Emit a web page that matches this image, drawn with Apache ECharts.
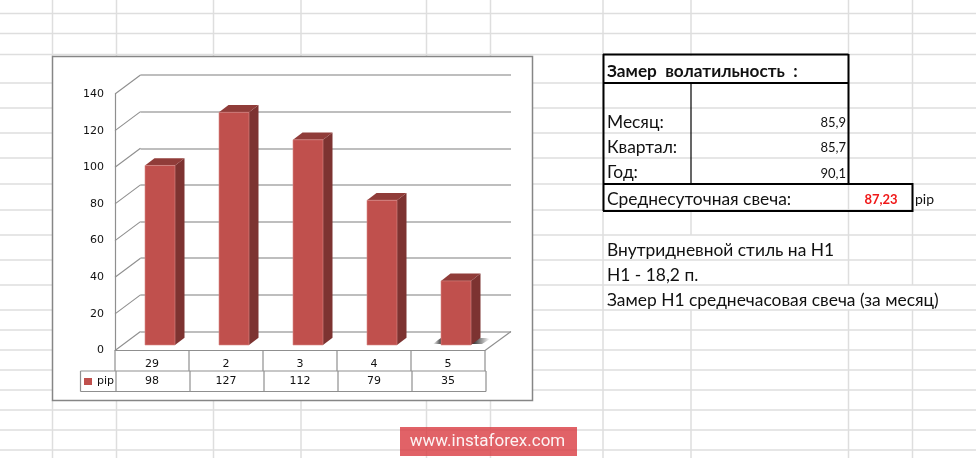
<!DOCTYPE html>
<html><head><meta charset="utf-8">
<style>html,body{margin:0;padding:0;background:#fff}#c{width:976px;height:458px}</style>
<script src="https://cdn.jsdelivr.net/npm/echarts@6/dist/echarts.min.js"></script>
</head><body><div id="c"></div>
<script>
var categories = ['29','2','3','4','5'];
var pipValues = [98,127,112,79,35];
var yTicks = [0,20,40,60,80,100,120,140];
var seriesName = 'pip';
var titleText = 'Замер  волатильность  :';
var periodLabels = ['Месяц:','Квартал:','Год:'];
var periodValues = ['85,9','85,7','90,1'];
var averageLabel = 'Среднесуточная свеча:';
var averageValue = '87,23';
var averageUnit = 'pip';
var notes = ['Внутридневной стиль на Н1','Н1 - 18,2 п.','Замер Н1 среднечасовая свеча (за месяц)'];
var watermark = 'www.instaforex.com';

var SHEET='Lato, "Open Sans", sans-serif', CHARTF='"DejaVu Sans", sans-serif';
var gridC='#dedede', g=[];
function ln(x1,y1,x2,y2,c,w,z){g.push({type:'line',silent:true,z:z==null?-20:z,shape:{x1:x1,y1:y1,x2:x2,y2:y2},style:{stroke:c||gridC,lineWidth:w||1.5}});}
function tx(t,x,y,o){o=o||{};g.push({type:'text',z:30,x:x,y:y,style:{text:t,fill:o.c||'#111',font:(o.b?'bold ':'')+(o.s||15.5)+'px '+SHEET,align:o.a||'left',verticalAlign:'middle'}});}
// spreadsheet background
[13.5,33.5,54.5,83,108,133,158,184,210,235,260,285,310,330,350,370,390,410,430,450].forEach(function(y){ln(0,y,976,y);});
[52.5,116.5,213.5,301,426.5,490.5].forEach(function(x){ln(x,0,x,56);ln(x,400,x,458);});
[603].forEach(function(x){ln(x,0,x,458);});
ln(691,0,691,56);ln(691,210,691,235);ln(691,310,691,458);
[848.5,912.5].forEach(function(x){ln(x,0,x,285);ln(x,310,x,458);});
// chart panel
g.push({type:'rect',silent:true,z:-10,shape:{x:52.5,y:56.5,width:480,height:344},style:{fill:'#fff',stroke:'#868686',lineWidth:1.5}});
// floor shadow
g.push({type:'polygon',silent:true,z:-5,shape:{points:[[438,340],[441,338],[486,338],[490,339],[482,344],[433,344]]},
  style:{fill:{type:'linear',x:0,y:0,x2:1,y2:0,colorStops:[{offset:0,color:'rgba(30,30,30,0)'},{offset:.14,color:'rgba(30,30,30,.85)'},{offset:.72,color:'rgba(30,30,30,.85)'},{offset:1,color:'rgba(30,30,30,0)'}]}}});
// right tables
var K='#000';
ln(603,54.5,848.5,54.5,K,2,20);ln(603,83,848.5,83,K,2,20);
ln(603.5,54,603.5,211,K,2,20);ln(848.5,54,848.5,184,K,2,20);
ln(691,83,691,184,K,1.2,20);
ln(603,184,912.5,184,K,2,20);ln(603,211,912.5,211,K,2,20);ln(912.5,183,912.5,212,K,2,20);
tx(titleText,607,71,{b:true,s:17.2});
periodLabels.forEach(function(t,i){tx(t,607,122+i*25,{s:17.4});
  tx(periodValues[i],846,123+i*25.2,{a:'right',s:13});});
tx(averageLabel,607,199,{s:17.4});
tx(averageValue,881,199.5,{a:'center',b:true,c:'#f01818',s:13});
tx(averageUnit,915,199.5,{s:14});
notes.forEach(function(t,i){tx(t,607,250+i*25,{s:17.4});});
// watermark
g.push({type:'rect',silent:true,z:40,shape:{x:400,y:427,width:177,height:29},style:{fill:'rgba(218,64,70,0.82)'}});
g.push({type:'text',silent:true,z:41,x:487.5,y:442,style:{text:watermark,fill:'#fff',font:'17px Roboto, sans-serif',align:'center',verticalAlign:'middle',opacity:0.92}});

var OX=25.5,OY=-19,BX=8,BY=-5.5,DX=9.5,DY=-7.3,BW=30,AX='#8f8f8f';
var chart=echarts.init(document.getElementById('c'),null,{width:976,height:458});
chart.setOption({
 animation:false,
 graphic:{elements:g},
 legend:{show:true,data:[seriesName],left:84,top:376,itemWidth:8,itemHeight:7,itemGap:3,padding:0,
   textStyle:{fontFamily:CHARTF,fontSize:11,color:'#111'},icon:'rect',selectedMode:false},
 grid:[{left:115,top:94,width:370,height:256.5},{left:140.5,top:75,width:370.5,height:256.5}],
 xAxis:[
  {type:'category',gridIndex:0,data:categories,axisTick:{show:false},axisLine:{show:true,lineStyle:{color:AX,width:1.2}},
   axisLabel:{color:'#111',fontFamily:CHARTF,fontSize:11,margin:8}},
  {type:'category',gridIndex:1,data:categories,show:false}],
 yAxis:[
  {type:'value',gridIndex:0,min:0,max:140,interval:20,splitLine:{show:false},axisTick:{show:false},
   axisLine:{show:true,lineStyle:{color:AX,width:1.2}},
   axisLabel:{color:'#111',fontFamily:CHARTF,fontSize:11,margin:11,padding:[2,0,0,0]}},
  {type:'value',gridIndex:1,min:0,max:140,interval:20,axisLine:{show:false},axisTick:{show:false},axisLabel:{show:false},
   splitLine:{show:true,lineStyle:{color:'#a9a9a9',width:1.6}}}],
 series:[
  {type:'custom',name:'walls',xAxisIndex:0,yAxisIndex:0,silent:true,z:1,data:yTicks.map(function(v){return [0,v];}),
   renderItem:function(p,api){
     var y=api.coord([0,api.value(1)])[1],x=p.coordSys.x;
     var ch=[{type:'line',shape:{x1:x,y1:y,x2:x+OX,y2:y+OY},style:{stroke:AX,lineWidth:1.1}}];
     if(api.value(1)===0){var r=x+p.coordSys.width;ch.push({type:'line',shape:{x1:r,y1:y,x2:r+OX+.5,y2:y+OY},style:{stroke:AX,lineWidth:1.1}});}
     return {type:'group',children:ch};
   }},
  {type:'custom',name:'table',xAxisIndex:0,yAxisIndex:0,silent:true,z:1,
   data:pipValues.map(function(v,i){return [i,v];}),
   renderItem:function(p,api){
     var c=api.coord([api.value(0),0]),hw=api.size([1,0])[0]/2,s={stroke:AX,lineWidth:1.2},y=c[1];
     var ch=[
       {type:'line',shape:{x1:c[0]+hw,y1:y,x2:c[0]+hw,y2:y+20.5},style:s},
       {type:'line',shape:{x1:c[0]+hw+1,y1:y+20.5,x2:c[0]+hw+1,y2:y+41},style:s},
       {type:'text',style:{x:c[0],y:y+31,text:String(api.value(1)),fill:'#111',font:'11px '+CHARTF,textAlign:'center',textVerticalAlign:'middle'}}];
     if(p.dataIndex===0){
       var L=c[0]-hw;
       ch.push({type:'line',shape:{x1:L,y1:y,x2:L,y2:y+20.5},style:s},
         {type:'line',shape:{x1:L-34.5,y1:y+20.5,x2:L+371,y2:y+20.5},style:s},
         {type:'line',shape:{x1:L-34.5,y1:y+41,x2:L+371,y2:y+41},style:s},
         {type:'line',shape:{x1:L-34.5,y1:y+20.5,x2:L-34.5,y2:y+41},style:s},
         {type:'line',shape:{x1:L+1,y1:y+20.5,x2:L+1,y2:y+41},style:s});
     }
     return {type:'group',children:ch};
   }},
  {type:'custom',name:seriesName,xAxisIndex:0,yAxisIndex:0,z:5,itemStyle:{color:'#c0504d'},
   data:pipValues.map(function(v,i){return [i,v];}),
   renderItem:function(p,api){
     var i=api.value(0),t=api.coord([i,api.value(1)]),b=api.coord([i,0]);
     var x0=t[0]+BX-BW/2,x1=x0+BW,yt=t[1]+BY,yb=b[1]+BY;
     return {type:'group',children:[
       {type:'polygon',shape:{points:[[x1,yt],[x1+DX,yt+DY],[x1+DX,yb+DY],[x1,yb]]},style:{fill:'#7d3331'}},
       {type:'polygon',shape:{points:[[x0,yt],[x0+DX,yt+DY],[x1+DX,yt+DY],[x1,yt]]},style:{fill:'#903c39'}},
       {type:'rect',shape:{x:x0,y:yt,width:BW,height:yb-yt},style:{fill:'#c0504d',stroke:'#d98a88',lineWidth:0.6}}
     ]};
   }}
 ]
});
</script></body></html>
